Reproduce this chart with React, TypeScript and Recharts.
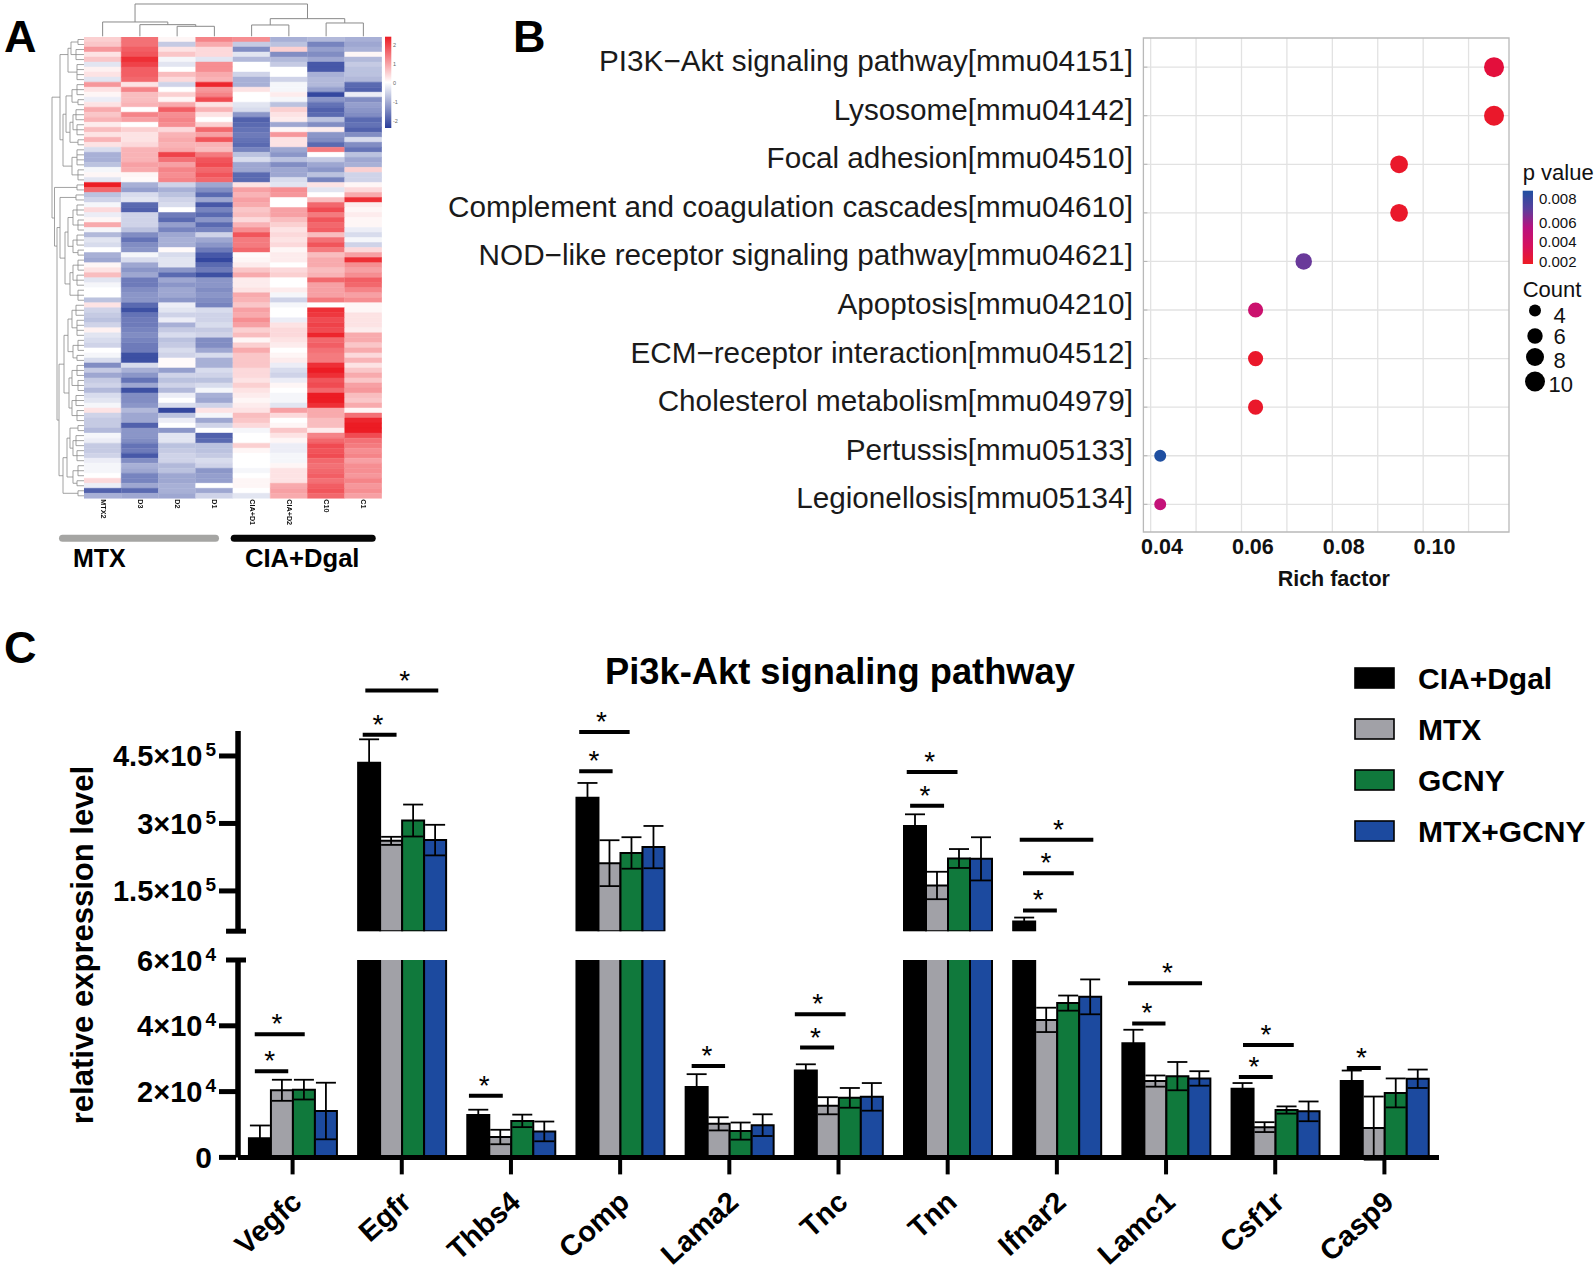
import React from 'react';
import {
  BarChart, Bar, Cell, ErrorBar, XAxis, YAxis, ZAxis, LineChart, Line,
  ScatterChart, Scatter, CartesianGrid, ReferenceArea,
} from 'recharts';

const FONT = '"Liberation Sans", Arial, sans-serif';

// ---- panel A: heatmap, one list per sample, top row first
const sampleNames = ['MTX2', 'D3', 'D2', 'D1', 'CIA+D1', 'CIA+D2', 'C10', 'C1'];
const heatMtx2 = [
  .5, .6, 1.1, .3, .6, -.3, .15, .3, -.3, 1.1, .3, .1, -.2, .3, .9, .6, .8, .2, .7, .3, .8, .3, -.4,
  -.9, -.9, -.7, -.1, .1, -.3, 2.4, 1.6, -.7, -.5, -.1, .4, -.2, .1, .9, -.1, -.8, -.3, -.4, 0, -.9, -1, .1, .3,
  .7, -.3, -.1, 0, 0, -.7, .3, -.5, -.6, -.7, -.5, .15, -.3, -.4, -.5, 0, -.1, -.4, -1.3, -.6, -1, -.6, -.5,
  -.8, -.4, -.3, -.1, .3, -.5, -.6, -.6, -.8, -.1, -.2, -.6, -.6, -.5, -.2, -.1, -.1, 0, .4, -.2, -1.8, -.9,
];
const heatD3 = [
  1.5, 1.5, 1.7, 1.8, 2.2, 2, 1.7, 1.7, 1.6, .3, 1.3, .7, .7, .8, 0, 1.3, 1, 0, .5, .3, .3, .4, .8,
  .8, .8, 1, .9, .1, .05, -.9, -1.1, -.4, -.3, -1.7, -1.8, -.5, -.5, -.5, -.7, -1.3, -1.6, -1.3, -1.2, -.1, -.4, -1, -1.2,
  -1, -1.5, -1.5, -1.3, -1.2, -1.2, -1.7, -2, -1.6, -1.5, -1.5, -1.4, -1.3, -1.4, -1.5, -1.5, -2, -2, -.4, -.9, -1.2, -1.6, -1,
  -2, -1.3, -1.3, -1.2, -.8, -1, -1, -1.8, -1.2, -1.2, -1.3, -1.6, -1.5, -1.9, -1.3, -.9, -1, -1.4, -1.4, -1, -1.7, -1,
];
const heatD2 = [
  .1, -.6, .3, .6, -.1, -.3, 0, .7, .4, -.5, 0, .5, .1, .9, 1.7, 1.2, 1.3, 1.2, .4, .8, .9, .8, .9,
  2, 1.5, 1, 1.3, 1.2, 1.3, -.5, -.9, -.7, -.5, -.4, 0, -1.5, -1.7, -1.1, -1.4, -1, -.9, -.9, .05, -.4, -.3, -.3, -1.2,
  -1.7, -1, -1.2, -1, -1, -1.2, -.2, -.3, -.5, -.2, -.9, -.6, -.4, -.7, -.6, -.4, -.5, .05, .05, -1.1, -.5, -.7, -.5,
  -.8, -.2, 0, -.4, -2.1, -.7, -.2, 0, -1.2, -.3, -.3, -.7, -.6, -.5, -.5, -.8, -.7, -1, -1, -.9, -.9, -1,
];
const heatD1 = [
  1.3, .9, .4, .4, -.3, 1.2, 1.2, .9, .8, 2.3, 1.1, 1.3, 1.9, .3, .8, .3, 0, .5, 1.6, 1, 1.8, .8, .7,
  1.4, 1.8, 1.9, 1.6, 1.8, 1.6, -1, -1.3, -1.7, -1, -1.9, -1.4, -1.7, -1.2, -1.7, -1.4, -.5, -1, -1.2, -1.5, -1.9, -2.1, -1.7, -1.5,
  -2, -1.2, -1.2, -1.3, -1.2, -1.3, -1.4, -.4, -.5, -.5, -.4, -.6, -.5, -1.3, -1.3, -1, -.4, -.9, -.9, -.4, -.5, -.7, -.4,
  -.1, -.9, -1, -.5, .3, -.1, -1, -.5, 0, -1.8, -1.7, -.7, -.7, -.6, -.4, -.5, -1.2, -1.1, -1.1, 0, -1, -.5,
];
const heatCiaD1 = [
  1.2, -.6, -1.3, -.3, -.8, 0, 0, -.5, -.9, -.9, .3, 0, 0, -.3, -.4, -1.2, -1.8, -1.7, -1.6, -1.5, -1.6, -1.7, -1.4,
  -.7, -.4, -1, -1, -1.7, -1.7, .3, 1, .8, 1, .9, .6, .7, .4, .8, 1.2, 1.8, 1.4, 1.4, 1.6, .05, .1, .2, .6,
  .9, .2, .2, .3, .9, .8, .6, 1, .9, 1.2, 1, .5, .7, .1, .5, .9, .6, .6, .6, .4, .4, .3, .5,
  .3, .2, .1, .2, .3, .7, .6, .4, -.1, 0, 0, .5, .1, 0, 0, 0, -.1, 0, .1, .1, 0, -.3,
];
const heatCiaD2 = [
  -.9, -.7, .5, -1.3, -.8, -.6, 0, 0, -.5, -.1, -.1, .2, -.1, -.7, .5, .3, .2, -1, .1, 1.1, .3, .3, -1,
  -1.2, -.7, -1.3, -1, -1, -.4, -.3, 1.2, 1.1, 0, 0, 1, 1, .7, .5, .3, .4, .3, .4, .1, .2, .2, 0, .4,
  .5, 0, 0, .2, -.1, -.5, -.1, 0, 0, -.2, .3, .4, .4, .3, .2, 0, .1, .2, -.2, -.4, -.5, -.2, .1,
  0, -.1, -.1, -.3, 1, .4, 0, .1, .6, .3, .1, -.2, -.2, -.1, -.1, .1, .3, .3, .3, .9, 1, .9,
];
const heatC10 = [
  -.8, -1.4, -1.1, -1.3, -1, -1.9, -1.9, -.9, -.8, -.8, -1.1, -2.1, -1.2, -1.6, -1.8, -1.7, -.7, -1.3, .2, -1.2, -1.3, -1.7, 1.4,
  0, -.6, -1, -1.2, -.7, -1.4, .3, -.3, 0, .7, 1.6, 1.9, 1.4, 1.8, 1.6, 1.7, .7, 1.5, 1.8, 1.4, .7, .9, .9, .7,
  .8, 1.6, 1, 1, 1, 1.4, 0, 2.2, 2.1, 1.9, 2, 1.9, 2.3, 1.6, 1.7, 1.5, 1.4, 1.4, 2.2, 2.4, 2.2, 1.8, 1.9,
  1.6, 2.4, 2.4, 2.2, .9, .9, .7, .7, .2, 1.3, 1.6, 1.9, 1.8, 1.9, 1.6, 1.5, 1.6, 1.7, 1.5, 1.7, 1.8, 1.6,
];
const heatC1 = [
  -.9, -1, -.9, .1, -.8, -.6, -.7, -.7, -.8, -1.7, -1.8, -.2, -1.3, -1.1, -1.2, -1.3, -1.7, -1.6, -1.8, -1.3, -.4, -1.3, -1.6,
  -.7, -1, -.9, .5, -.5, -.5, .1, .4, .9, 2.2, .2, .1, .2, .1, .1, -.2, -.4, -.1, -.5, .4, 1, 2.2, 1.2, 1,
  1.2, 1.7, 1.6, 1.3, 1, 1.2, .1, .1, .3, .3, .3, .2, .9, .9, .6, .9, .4, .8, .3, .6, .9, .6, 1,
  1.1, .7, .6, .9, .1, 1.5, 2.3, 2.4, 2.4, 1.9, 1.5, 1.4, 1.2, 1.3, 1, 1.2, 1.2, 1.1, 1.3, 1.1, 1.2, 1,
];
const heatColumns = [heatMtx2, heatD3, heatD2, heatD1, heatCiaD1, heatCiaD2, heatC10, heatC1];
const ROW_COUNT = heatMtx2.length;

// dendrograms: [a, b, height, heightA, heightB]
const topLinks = [
  [2.5, 3.5, 30, 0, 0], [1.5, 3, 35, 0, 30], [0.5, 2.25, 43, 0, 35],
  [4.5, 5.5, 34, 0, 0], [6.5, 7.5, 40, 0, 0], [5, 7, 53, 34, 40], [1.37, 6, 97, 43, 53],
];
const leftCombs = [
  [0, 1, 6], [2, 4, 8], [5, 8, 7], [9, 11, 7], [12, 13, 6], [14, 16, 8], [17, 19, 7], [20, 21, 6],
  [22, 25, 7], [26, 28, 6], [29, 30, 7], [31, 32, 8], [33, 35, 7], [36, 38, 6], [39, 41, 7], [42, 43, 6],
  [44, 46, 6], [47, 49, 7], [50, 52, 6], [53, 55, 8], [56, 59, 7], [60, 62, 6], [63, 64, 7], [65, 67, 7],
  [68, 70, 6], [71, 73, 8], [74, 76, 7], [77, 78, 6], [79, 81, 8], [82, 84, 7], [85, 87, 6], [88, 89, 7], [90, 91, 6],
];
const leftLinks = [
  [0.5, 3, 13, 6, 8], [1.75, 6.5, 16, 13, 7], [10, 12.5, 12, 7, 6], [15, 18, 11, 8, 7], [16.5, 20.5, 14, 11, 6],
  [11.25, 18.5, 18, 12, 14], [23.5, 27, 12, 7, 6], [14.9, 25.25, 21, 18, 12], [3, 20, 24, 16, 21],
  [34, 37, 11, 7, 6], [40, 42.5, 11, 7, 6], [35.5, 41.25, 16, 11, 11], [45, 48, 11, 6, 7], [46.5, 51, 14, 11, 6],
  [38.4, 48.75, 19, 16, 14], [31.5, 43.6, 24, 8, 19], [54, 57.5, 12, 8, 7], [61, 63.5, 11, 6, 7],
  [55.75, 62.25, 16, 12, 11], [66, 69, 12, 7, 6], [72, 75, 12, 8, 7], [67.5, 73.5, 15, 12, 12], [59, 70.5, 20, 16, 15],
  [80, 83, 11, 8, 7], [86, 88.5, 11, 6, 7], [77.5, 81.5, 14, 6, 11], [79.5, 87.25, 17, 14, 11], [83.4, 90.5, 21, 17, 6],
  [64.75, 87, 25, 20, 21], [37.5, 75.9, 27, 24, 25], [29.5, 41.2, 29.5, 7, 27], [11.5, 35.6, 32, 24, 29.5],
];

// ---- panel B: KEGG enrichment
const pathwayNames = [
  'PI3K\u2212Akt signaling pathway[mmu04151]', 'Lysosome[mmu04142]', 'Focal adhesion[mmu04510]',
  'Complement and coagulation cascades[mmu04610]', 'NOD\u2212like receptor signaling pathway[mmu04621]',
  'Apoptosis[mmu04210]', 'ECM\u2212receptor interaction[mmu04512]', 'Cholesterol metabolism[mmu04979]',
  'Pertussis[mmu05133]', 'Legionellosis[mmu05134]',
];
const richFactors = [0.1131, 0.1131, 0.0922, 0.0922, 0.0712, 0.0606, 0.0606, 0.0606, 0.0396, 0.0396];
const pValues = [0.0025, 0.002, 0.002, 0.002, 0.0072, 0.0047, 0.002, 0.002, 0.0088, 0.0052];
const counts = [10, 10, 8, 8, 7, 6, 6, 6, 4, 4];
const richTicks = [0.04, 0.06, 0.08, 0.1];
const richGrid = [0.0375, 0.0475, 0.0575, 0.0675, 0.0775, 0.0875, 0.0975, 0.1075];
const pStops: [number, number[]][] = [
  [0.0018, [237, 28, 36]], [0.0025, [227, 15, 60]], [0.004, [214, 16, 94]], [0.0055, [191, 18, 128]],
  [0.0065, [139, 42, 150]], [0.0075, [90, 63, 156]], [0.0088, [31, 79, 161]],
];
const rowIndexes = pathwayNames.map((_, i) => i);

// ---- panel C: qPCR bars
const genes = ['Vegfc', 'Egfr', 'Thbs4', 'Comp', 'Lama2', 'Tnc', 'Tnn', 'Ifnar2', 'Lamc1', 'Csf1r', 'Casp9'];
const ciaDgal = [5800, 435000, 12900, 357000, 21400, 26400, 294300, 82100, 34700, 20900, 23200];
const ciaDgalErr = [3900, 52000, 1600, 33000, 3900, 1900, 26000, 8700, 4100, 1700, 3200];
const mtx = [20400, 261300, 6200, 211700, 10200, 15700, 162100, 41800, 23200, 9200, 8900];
const mtxErr = [3200, 9000, 2200, 51000, 2000, 2600, 30500, 3700, 1700, 1500, 9600];
const gcny = [20600, 306500, 11100, 234400, 8000, 18100, 222100, 46900, 24700, 14400, 19600];
const gcnyErr = [3000, 35500, 1900, 35000, 2600, 3000, 21000, 2300, 4300, 1100, 4400];
const mtxGcny = [14100, 263000, 7900, 247400, 9800, 18400, 221300, 48800, 24000, 14000, 23900];
const mtxGcnyErr = [8600, 34000, 3000, 47000, 3300, 4200, 48000, 5300, 2200, 3000, 2800];
const BREAK_LOW = 60000;
const BREAK_HIGH = 60500;

// significance bars: [from, to, level, star position], x in gene slots
const sigLow = [
  [0.154, 0.46, 26150, 0.291], [0.153, 0.611, 37400, 0.357], [2.115, 2.425, 18700, 2.254],
  [4.155, 4.461, 27800, 4.294], [5.148, 5.46, 33400, 5.288], [5.1, 5.565, 43500, 5.31],
  [8.19, 8.495, 40700, 8.325], [8.152, 8.83, 52900, 8.514], [9.167, 9.477, 24400, 9.306],
  [9.205, 9.67, 34200, 9.416], [10.156, 10.467, 27200, 10.29],
];
const sigHigh = [
  [1.142, 1.452, 496900, 1.281], [1.166, 1.834, 595200, 1.526], [3.125, 3.431, 416000, 3.26],
  [3.125, 3.587, 503000, 3.328], [6.156, 6.467, 339500, 6.293], [6.125, 6.59, 414300, 6.336],
  [7.19, 7.5, 106500, 7.33], [7.19, 7.655, 189100, 7.4], [7.16, 7.834, 263900, 7.515],
];
const seriesList = [
  { key: 'cia', name: 'CIA+Dgal', color: '#000000', values: ciaDgal, errs: ciaDgalErr },
  { key: 'mtx', name: 'MTX', color: '#a1a1a7', values: mtx, errs: mtxErr },
  { key: 'gcny', name: 'GCNY', color: '#10793c', values: gcny, errs: gcnyErr },
  { key: 'combo', name: 'MTX+GCNY', color: '#1c4a9f', values: mtxGcny, errs: mtxGcnyErr },
];

const heatColor = (v: number) => {
  const blue = [42, 62, 154];
  const red = [236, 28, 36];
  const t = Math.min(Math.abs(v) / (v < 0 ? 2.2 : 2.4), 1);
  const end = v < 0 ? blue : red;
  const mix = [0, 1, 2].map((i) => Math.round(255 + (end[i] - 255) * t));
  return `rgb(${mix.join(',')})`;
};

const pColor = (p: number) => {
  for (let i = 1; i < pStops.length; i++) {
    if (p <= pStops[i][0]) {
      const [p0, c0] = pStops[i - 1];
      const [p1, c1] = pStops[i];
      const t = Math.max((p - p0) / (p1 - p0), 0);
      return `rgb(${c0.map((c, k) => Math.round(c + (c1[k] - c) * t)).join(',')})`;
    }
  }
  return 'rgb(31,79,161)';
};

const heatTable = sampleNames.map((name, c) => {
  const row: Record<string, number | string> = { name };
  heatColumns[c].forEach((_, r) => { row[`r${r}`] = 1; });
  return row;
});

const topPoints = topLinks.flatMap(([a, b, h, ha, hb]) => [
  { x: a, y: ha }, { x: a, y: h }, { x: b, y: h }, { x: b, y: hb }, { x: b, y: null },
]);
const leftPoints = [
  ...leftCombs.flatMap(([first, last, d]) => {
    const pts: { x: number; y: number | null }[] = [{ x: d, y: first + 0.5 }, { x: d, y: last + 0.5 }, { x: d, y: null }];
    for (let r = first; r <= last; r++) {
      pts.push({ x: 0, y: r + 0.5 }, { x: d, y: r + 0.5 }, { x: d, y: null });
    }
    return pts;
  }),
  ...leftLinks.flatMap(([a, b, d, da, db]) => [
    { x: da, y: a + 0.5 }, { x: d, y: a + 0.5 }, { x: d, y: b + 0.5 }, { x: db, y: b + 0.5 }, { x: db, y: null },
  ]),
];

const enrichData = pathwayNames.map((name, i) => ({
  name, row: i, rich: richFactors[i], p: pValues[i], count: counts[i],
}));

const barTable = (pick: (v: number) => number | null, pickErr: (v: number) => boolean) =>
  genes.map((gene, i) => {
    const row: Record<string, number | string | null> = { gene };
    seriesList.forEach((s) => {
      row[s.key] = pick(s.values[i]);
      row[`${s.key}Err`] = pickErr(s.values[i]) ? s.errs[i] : null;
    });
    return row;
  });
const highTable = barTable((v) => (v > BREAK_HIGH ? v : null), (v) => v > BREAK_HIGH);
const lowTable = barTable((v) => v, (v) => v <= BREAK_LOW);

const sigLine = (list: number[][]) =>
  list.flatMap(([from, to, level]) => [
    { x: from, y: level }, { x: to, y: level }, { x: to, y: null },
  ]);
const sigStars = (list: number[][]) => list.map(([, , level, star]) => ({ x: star, y: level }));

const PathwayTick = (props: any) => {
  const { x, y, payload } = props;
  return (
    <g>
      <line x1={x + 8} x2={x + 12} y1={y} y2={y} stroke="#b5b5b5" strokeWidth={1} />
      <text x={x - 2.5} y={y + 4} textAnchor="end" fontSize={29.7} fill="#1a1a1a" fontFamily={FONT}>
        {pathwayNames[payload.value]}
      </text>
    </g>
  );
};

const ExpoTick = (props: any) => {
  const { x, y, payload } = props;
  const v = payload.value;
  const axisX = x + 17;
  if (v === BREAK_HIGH) {
    return <line x1={axisX - 10} x2={axisX + 10} y1={y} y2={y} stroke="#000" strokeWidth={5} />;
  }
  const exp = v >= 100000 ? 5 : 4;
  const mant = v / Math.pow(10, exp);
  const capRight = v === BREAK_LOW ? axisX + 10 : axisX;
  return (
    <g>
      <line x1={v === BREAK_LOW ? axisX - 10 : axisX - 17} x2={capRight} y1={y} y2={y} stroke="#000" strokeWidth={5} />
      {v === 0 ? (
        <text x={x - 7} y={y + 11} textAnchor="end" fontSize={30} fontWeight="bold" fontFamily={FONT}>0</text>
      ) : (
        <text x={x - 3} y={y + 10.5} textAnchor="end" fontSize={29} fontWeight="bold" fontFamily={FONT}>
          {`${mant}\u00d710`}
          <tspan dx={3} dy={-10} fontSize={19}>{exp}</tspan>
        </text>
      )}
    </g>
  );
};

const GeneTick = (props: any) => {
  const { x, y, payload } = props;
  return (
    <text
      transform={`translate(${x + 11},${y + 28}) rotate(-42)`}
      textAnchor="end"
      fontSize={29}
      fontWeight="bold"
      fontFamily={FONT}
    >
      {payload.value}
    </text>
  );
};

const Star = (props: any) =>
  props.cx == null ? null : (
    <text key={props.index} x={props.cx} y={props.cy - 1} textAnchor="middle" fontSize={28} fontFamily={FONT}>*</text>
  );

const SigLayer = ({ list, top, height, domain }: { list: number[][]; top: number; height: number; domain: number[] }) => (
  <div style={{ position: 'absolute', left: 238, top }}>
    <LineChart width={1201} height={height} margin={{ top: 0, right: 0, bottom: 0, left: 0 }}>
      <XAxis type="number" dataKey="x" domain={[0, 11]} hide />
      <YAxis type="number" domain={domain} hide />
      <Line data={sigLine(list)} dataKey="y" stroke="#000" strokeWidth={4} dot={false} isAnimationActive={false} />
      <Line data={sigStars(list)} dataKey="y" stroke="none" dot={<Star />} isAnimationActive={false} />
    </LineChart>
  </div>
);

const seriesBars = () =>
  seriesList.map((s) => (
    <Bar key={s.key} dataKey={s.key} fill={s.color} stroke="#000" strokeWidth={2} isAnimationActive={false}>
      <ErrorBar dataKey={`${s.key}Err`} width={10} strokeWidth={1.8} stroke="#000" isAnimationActive={false} />
    </Bar>
  ));

const abs = (left: number, top: number): React.CSSProperties => ({ position: 'absolute', left, top });

export default function App() {
  return (
    <div style={{ position: 'absolute', left: 0, top: 0, width: 1594, height: 1272, background: '#fff', overflow: 'hidden', fontFamily: FONT }}>
      {/* A: heatmap */}
      <div style={{ ...abs(84, 36.7), filter: 'blur(0.7px)' }}>
        <BarChart width={298} height={516} data={heatTable} barCategoryGap={0} margin={{ top: 0, right: 0, bottom: 0, left: 0 }}>
          <XAxis
            dataKey="name"
            height={54.7}
            interval={0}
            axisLine={false}
            tickLine={false}
            tick={(p: any) => (
              <text transform={`translate(${p.x - 2},${p.y - 7}) rotate(90)`} fontSize={7.2} fontWeight="bold" fill="#111" fontFamily={FONT}>
                {p.payload.value}
              </text>
            )}
          />
          <YAxis hide reversed type="number" domain={[0, ROW_COUNT]} />
          {heatMtx2.map((_, r) => (
            <Bar key={r} dataKey={`r${r}`} stackId="heat" isAnimationActive={false}>
              {heatColumns.map((col, c) => (
                <Cell key={c} fill={heatColor(col[r])} stroke={heatColor(col[r])} strokeWidth={0.5} />
              ))}
            </Bar>
          ))}
        </BarChart>
      </div>
      <div style={abs(84, 3.4)}>
        <LineChart width={298} height={33.3} margin={{ top: 0, right: 0, bottom: 0, left: 0 }}>
          <XAxis type="number" dataKey="x" domain={[0, 8]} hide />
          <YAxis type="number" domain={[0, 100]} hide />
          <Line data={topPoints} dataKey="y" stroke="#8a8a8a" strokeWidth={1} dot={false} isAnimationActive={false} />
        </LineChart>
      </div>
      <div style={abs(50, 36.7)}>
        <LineChart width={34} height={461.3} margin={{ top: 0, right: 0, bottom: 0, left: 0 }}>
          <XAxis type="number" dataKey="x" domain={[0, 34]} reversed hide />
          <YAxis type="number" domain={[0, ROW_COUNT]} reversed hide />
          <Line data={leftPoints} dataKey="y" stroke="#8a8a8a" strokeWidth={0.8} dot={false} isAnimationActive={false} />
        </LineChart>
      </div>

      {/* B: enrichment */}
      <div style={abs(400, 0)}>
        <ScatterChart width={1130} height={600} margin={{ top: 38, right: 21, bottom: 0, left: 0 }}>
          <CartesianGrid stroke="#e2e2e2" strokeWidth={1.3} verticalValues={richGrid} horizontalValues={rowIndexes} />
          <XAxis
            type="number"
            dataKey="rich"
            domain={[0.0359, 0.1164]}
            ticks={richTicks}
            height={68}
            axisLine={false}
            tickLine={false}
            tickMargin={1}
            tickFormatter={(v: number) => v.toFixed(2)}
            tick={{ fontSize: 21.5, fontWeight: 'bold', fill: '#111', fontFamily: FONT }}
          />
          <YAxis
            type="number"
            dataKey="row"
            reversed
            domain={[-0.6, 9.57]}
            ticks={rowIndexes}
            interval={0}
            width={743.4}
            axisLine={false}
            tickLine={false}
            tick={<PathwayTick />}
          />
          <ZAxis type="number" dataKey="count" domain={[4, 10]} range={[113, 314]} />
          <ReferenceArea x1={0.0359} x2={0.1164} y1={-0.6} y2={9.57} fill="none" stroke="#b9b9b9" strokeWidth={1.3} />
          <Scatter data={enrichData} isAnimationActive={false}>
            {enrichData.map((d) => <Cell key={d.name} fill={pColor(d.p)} />)}
          </Scatter>
        </ScatterChart>
      </div>

      {/* C: broken axis bars */}
      <div style={abs(100, 731)}>
        <BarChart width={1345} height={206.2} data={highTable} barGap={0} barCategoryGap="10%" margin={{ top: 0, right: 6, bottom: 6, left: 0 }}>
          <XAxis dataKey="gene" hide />
          <YAxis
            type="number"
            domain={[BREAK_HIGH, 505500]}
            ticks={[BREAK_HIGH, 150000, 300000, 450000]}
            allowDataOverflow
            interval={0}
            width={138}
            tickSize={17}
            tickLine={false}
            axisLine={{ stroke: '#000', strokeWidth: 5.5 }}
            tick={<ExpoTick />}
          />
          {seriesBars()}
        </BarChart>
      </div>
      <div style={abs(100, 929.6)}>
        <BarChart width={1345} height={342} data={lowTable} barGap={0} barCategoryGap="10%" margin={{ top: 30, right: 6, bottom: 0, left: 0 }}>
          <XAxis
            dataKey="gene"
            interval={0}
            height={114.6}
            tickSize={17}
            tickLine={{ stroke: '#000', strokeWidth: 4 }}
            axisLine={{ stroke: '#000', strokeWidth: 5 }}
            tick={<GeneTick />}
          />
          <YAxis
            type="number"
            domain={[0, BREAK_LOW]}
            ticks={[0, 20000, 40000, BREAK_LOW]}
            allowDataOverflow
            interval={0}
            width={138}
            tickSize={17}
            tickLine={false}
            axisLine={{ stroke: '#000', strokeWidth: 5.5 }}
            tick={<ExpoTick />}
          />
          {seriesBars()}
        </BarChart>
      </div>
      <SigLayer list={sigHigh} top={640} height={291.2} domain={[BREAK_HIGH, 707600]} />
      <SigLayer list={sigLow} top={929.6} height={227.4} domain={[0, 69119]} />

      {/* annotations and legends */}
      <svg width={1594} height={1272} style={{ ...abs(0, 0), pointerEvents: 'none' }} fontFamily={FONT}>
        <defs>
          <linearGradient id="heatBar" x1="0" y1="0" x2="0" y2="1">
            <stop offset="0" stopColor="#ec1c24" />
            <stop offset="0.5" stopColor="#ffffff" />
            <stop offset="1" stopColor="#2a3e9a" />
          </linearGradient>
          <linearGradient id="pBar" x1="0" y1="0" x2="0" y2="1">
            <stop offset="0" stopColor="#1f4fa1" />
            <stop offset="0.25" stopColor="#5a3f9c" />
            <stop offset="0.5" stopColor="#b8127f" />
            <stop offset="0.75" stopColor="#d6105e" />
            <stop offset="1" stopColor="#ed1c24" />
          </linearGradient>
        </defs>

        <text x={4} y={52} fontSize={45} fontWeight="bold">A</text>
        <text x={513} y={52} fontSize={45} fontWeight="bold">B</text>
        <text x={4} y={663} fontSize={45} fontWeight="bold">C</text>

        <rect x={385} y={36.7} width={6.3} height={91.3} fill="url(#heatBar)" />
        {[['2', 44.7], ['1', 63.7], ['0', 82.7], ['-1', 101.7], ['-2', 120.7]].map(([t, y]) => (
          <text key={t} x={393} y={(y as number) + 2} fontSize={5.5} fill="#666">{t}</text>
        ))}
        <rect x={59} y={534.8} width={160} height={7} rx={3.5} fill="#a5a5a3" />
        <rect x={230.7} y={534.8} width={145} height={7} rx={3.5} fill="#050505" />
        <text x={73} y={567} fontSize={25} fontWeight="bold">MTX</text>
        <text x={245} y={567} fontSize={25.6} fontWeight="bold">CIA+Dgal</text>

        <text x={1333.8} y={586} textAnchor="middle" fontSize={21.5} fontWeight="bold" fill="#111">Rich factor</text>
        <text x={1522.7} y={180} fontSize={22} fill="#111">p value</text>
        <rect x={1522.7} y={190.7} width={10.3} height={73.3} fill="url(#pBar)" />
        {[['0.008', 199], ['0.006', 222.5], ['0.004', 242], ['0.002', 261.7]].map(([t, y]) => (
          <text key={t} x={1539} y={(y as number) + 5.3} fontSize={15} fill="#111">{t}</text>
        ))}
        <text x={1522.7} y={296.5} fontSize={22} fill="#111">Count</text>
        <circle cx={1535} cy={310.5} r={6} fill="#000" />
        <circle cx={1535} cy={336} r={7.7} fill="#000" />
        <circle cx={1535} cy={357} r={9} fill="#000" />
        <circle cx={1535} cy={381.5} r={10} fill="#000" />
        <text x={1553.5} y={322.5} fontSize={22} fill="#111">4</text>
        <text x={1553.5} y={343.5} fontSize={22} fill="#111">6</text>
        <text x={1553.5} y={367.5} fontSize={22} fill="#111">8</text>
        <text x={1548.5} y={391.5} fontSize={22} fill="#111">10</text>

        <text x={840} y={684} textAnchor="middle" fontSize={36.3} fontWeight="bold">Pi3k-Akt signaling pathway</text>
        {seriesList.map((s, i) => {
          const y = [678, 729, 780, 831][i];
          return (
            <g key={s.key}>
              <rect x={1355} y={y - 10} width={39} height={20} fill={s.color} stroke="#000" strokeWidth={1.6} />
              <text x={1418} y={y + 10.7} fontSize={30} fontWeight="bold">{s.name}</text>
            </g>
          );
        })}
        <text
          transform="translate(93,945) rotate(-90)"
          textAnchor="middle"
          fontSize={31}
          fontWeight="bold"
        >
          relative expression level
        </text>
      </svg>
    </div>
  );
}
